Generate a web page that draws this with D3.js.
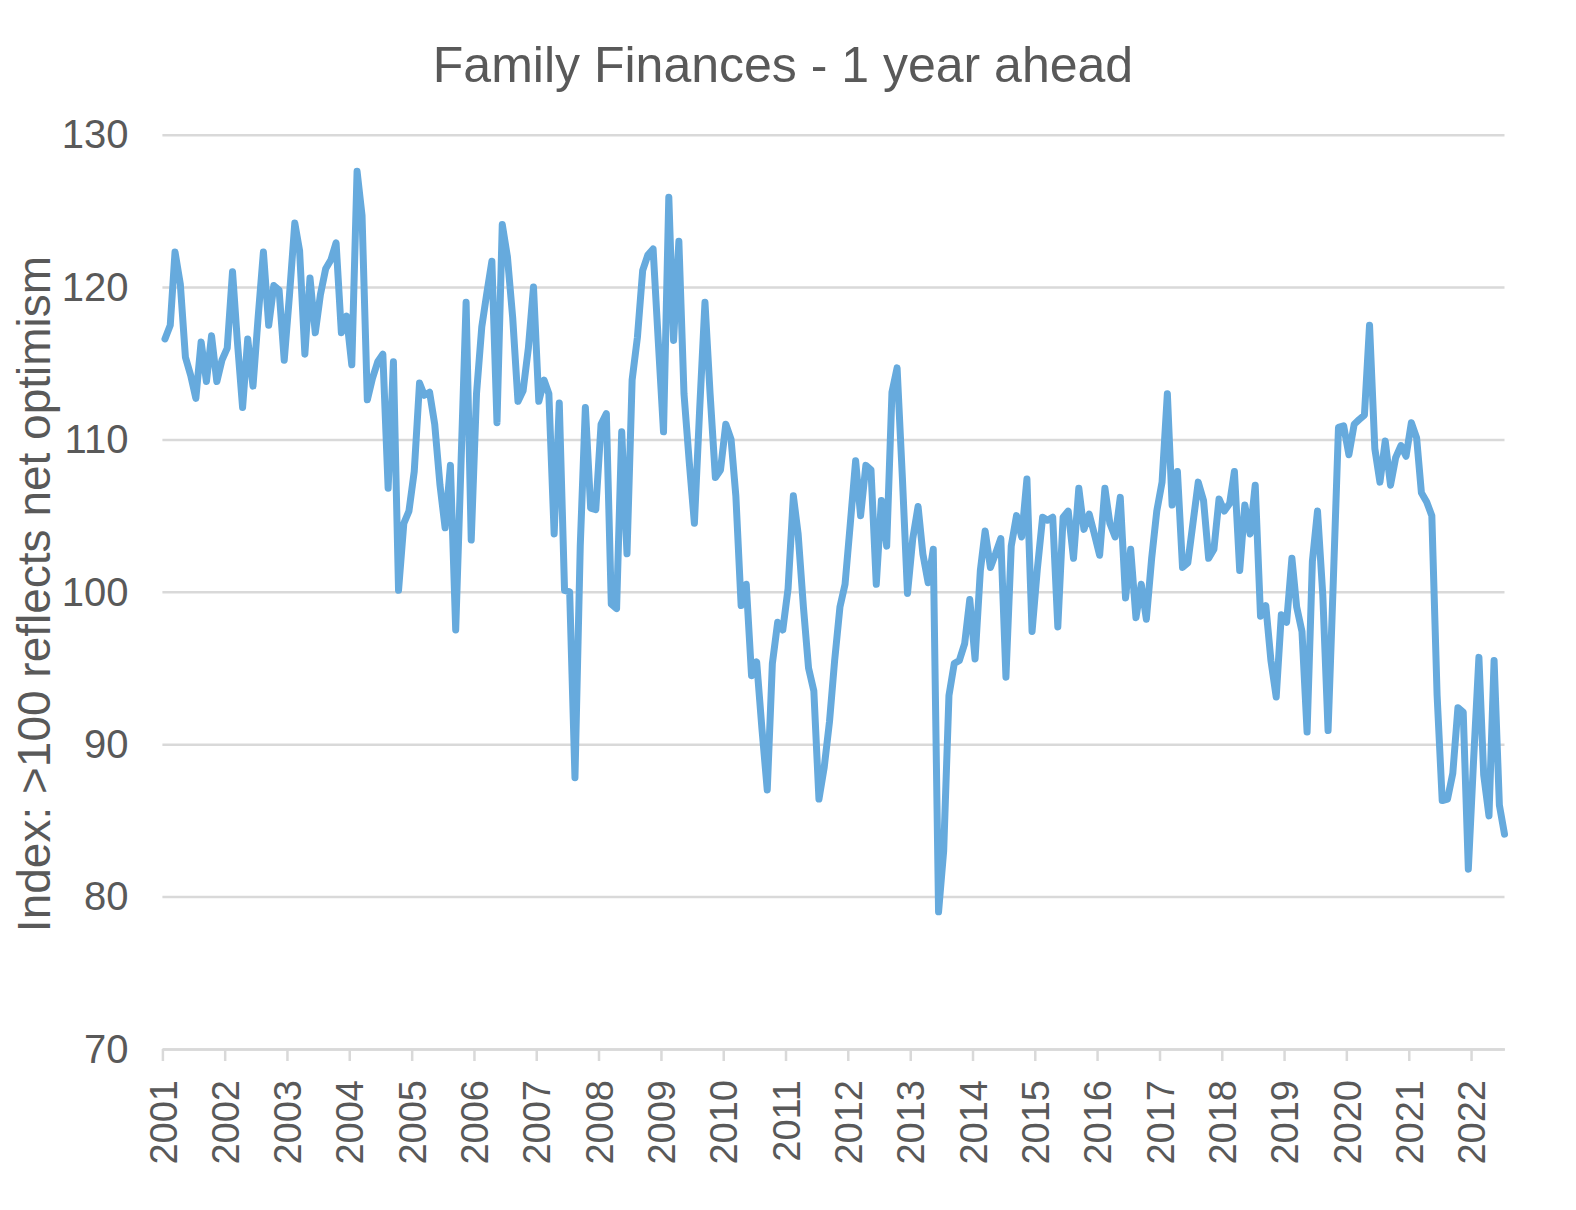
<!DOCTYPE html>
<html>
<head>
<meta charset="utf-8">
<script src="https://cdn.jsdelivr.net/npm/d3@7"></script>
<style>
  html, body { margin: 0; padding: 0; background: #ffffff; }
  svg { display: block; font-family: "Liberation Sans", Arial, Helvetica, sans-serif; }
</style>
</head>
<body>
<svg id="chart" width="1576" height="1210"></svg>
<script>
// ---- Data (monthly, Jan 2001 – Jul 2022) ----
const chartTitle = "Family Finances - 1 year ahead";
const yAxisTitle = "Index: >100 reflects net optimism";
const startYear = 2001;
const startMonth = 0; // January
const familyFinances = [
  // 2001
  116.6, 117.5, 122.3, 120.2, 115.4, 114.2, 112.7, 116.4, 113.8, 116.8, 113.8, 115.2,
  // 2002
  116.0, 121.0, 116.5, 112.1, 116.6, 113.5, 118.0, 122.3, 117.5, 120.1, 119.8, 115.2,
  // 2003
  119.5, 124.2, 122.4, 115.6, 120.6, 117.0, 119.5, 121.2, 121.8, 122.9, 117.0, 118.1,
  // 2004
  114.9, 127.6, 124.7, 112.6, 114.0, 115.1, 115.6, 106.8, 115.1, 100.1, 104.5, 105.3,
  // 2005
  107.9, 113.7, 112.9, 113.1, 111.0, 107.0, 104.2, 108.3, 97.5, 108.0, 119.0, 103.4,
  // 2006
  113.0, 117.4, 119.5, 121.7, 111.1, 124.1, 122.0, 118.0, 112.5, 113.2, 116.0, 120.0,
  // 2007
  112.5, 113.9, 113.0, 103.8, 112.4, 100.1, 100.0, 87.8, 103.0, 112.1, 105.5, 105.4,
  // 2008
  111.0, 111.7, 99.2, 98.9, 110.5, 102.5, 113.9, 116.7, 121.1, 122.1, 122.5, 116.5,
  // 2009
  110.5, 125.9, 116.5, 123.0, 113.0, 108.5, 104.5, 112.0, 119.0, 113.0, 107.5, 108.0,
  // 2010
  111.0, 110.0, 106.3, 99.1, 100.5, 94.5, 95.4, 91.0, 87.0, 95.3, 98.0, 97.5,
  // 2011
  100.2, 106.3, 103.8, 99.0, 95.0, 93.5, 86.4, 88.5, 91.5, 95.5, 99.0, 100.5,
  // 2012
  104.5, 108.6, 105.0, 108.3, 108.0, 100.5, 106.0, 103.0, 113.1, 114.7, 107.5, 99.9,
  // 2013
  103.5, 105.6, 102.5, 100.6, 102.8, 79.0, 83.0, 93.2, 95.3, 95.5, 96.6, 99.5,
  // 2014
  95.6, 101.4, 104.0, 101.6, 102.5, 103.5, 94.4, 103.0, 105.0, 103.6, 107.4, 97.4,
  // 2015
  101.5, 104.9, 104.7, 104.9, 97.7, 104.9, 105.3, 102.2, 106.8, 104.1, 105.1, 103.8,
  // 2016
  102.4, 106.8, 104.5, 103.6, 106.2, 99.6, 102.8, 98.3, 100.5, 98.2, 102.2, 105.3,
  // 2017
  107.2, 113.0, 105.7, 107.9, 101.6, 101.9, 104.5, 107.2, 106.0, 102.2, 102.8, 106.1,
  // 2018
  105.3, 105.8, 107.9, 101.4, 105.7, 103.8, 107.0, 98.4, 99.1, 95.5, 93.1, 98.5,
  // 2019
  98.0, 102.2, 99.0, 97.4, 90.8, 102.0, 105.3, 99.8, 90.9, 100.5, 110.8, 110.9,
  // 2020
  109.0, 111.0, 111.3, 111.6, 117.5, 109.4, 107.2, 109.9, 107.0, 108.8, 109.6, 108.9,
  // 2021
  111.1, 110.1, 106.5, 105.9, 105.0, 93.2, 86.3, 86.4, 88.1, 92.4, 92.1, 81.8,
  // 2022
  89.0, 95.7, 88.0, 85.3, 95.5, 86.0, 84.1
];
const yTickValues = [70, 80, 90, 100, 110, 120, 130];
const xTickYears = d3.range(2001, 2023);

// ---- Layout ----
const svg = d3.select("#chart");
const plotLeft = 162.4, plotRight = 1504.5, plotTop = 134.7, plotBottom = 1049;
const textColor = "#595959";
const gridColor = "#d9d9d9";
const lineColor = "#66aadd";

const points = familyFinances.map((v, i) => ({
  date: new Date(Date.UTC(startYear, startMonth + i, 16)),
  value: v
}));

const x = d3.scaleUtc()
  .domain([new Date(Date.UTC(startYear, 0, 1)), points[points.length - 1].date])
  .range([plotLeft, plotRight]);

const y = d3.scaleLinear()
  .domain([70, 130])
  .range([plotBottom, plotTop]);

// Title
svg.append("text")
  .attr("x", 783)
  .attr("y", 82)
  .attr("text-anchor", "middle")
  .attr("fill", textColor)
  .style("font-size", "50px")
  .text(chartTitle);

// Gridlines + y axis labels
const yAxis = d3.axisLeft(y)
  .tickValues(yTickValues)
  .tickSize(-(plotRight - plotLeft))
  .tickPadding(34)
  .tickFormat(d3.format("d"));

const yG = svg.append("g")
  .attr("transform", `translate(${plotLeft},0)`)
  .call(yAxis);
yG.select(".domain").remove();
yG.selectAll(".tick line")
  .attr("stroke", gridColor)
  .attr("stroke-width", 2.5);
yG.selectAll(".tick text")
  .attr("fill", textColor)
  .attr("dy", "0.33em")
  .style("font-size", "40px")
  .style("font-family", "'Liberation Sans', Arial, sans-serif");

// X axis (years)
const xAxis = d3.axisBottom(x)
  .tickValues(xTickYears.map(yr => new Date(Date.UTC(yr, 0, 1))))
  .tickSize(12)
  .tickSizeOuter(0)
  .tickFormat(d3.utcFormat("%Y"));

const xG = svg.append("g")
  .attr("transform", `translate(0,${plotBottom})`)
  .call(xAxis);
xG.select(".domain")
  .attr("stroke", gridColor)
  .attr("stroke-width", 2.5);
xG.selectAll(".tick line")
  .attr("stroke", gridColor)
  .attr("stroke-width", 2.5);
xG.selectAll(".tick text")
  .attr("fill", textColor)
  .style("font-size", "38px")
  .style("font-family", "'Liberation Sans', Arial, sans-serif")
  .attr("text-anchor", "end")
  .attr("transform", "rotate(-90)")
  .attr("x", -31)
  .attr("y", 0)
  .attr("dy", "0.36em");

// Y axis title
svg.append("text")
  .attr("transform", "translate(50,594) rotate(-90)")
  .attr("text-anchor", "middle")
  .attr("fill", textColor)
  .style("font-size", "46px")
  .text(yAxisTitle);

// Line
const line = d3.line()
  .x(d => x(d.date))
  .y(d => y(d.value))
  .curve(d3.curveLinear);

svg.append("path")
  .datum(points)
  .attr("fill", "none")
  .attr("stroke", lineColor)
  .attr("stroke-width", 7)
  .attr("stroke-linejoin", "round")
  .attr("stroke-linecap", "round")
  .attr("d", line);
</script>
</body>
</html>
